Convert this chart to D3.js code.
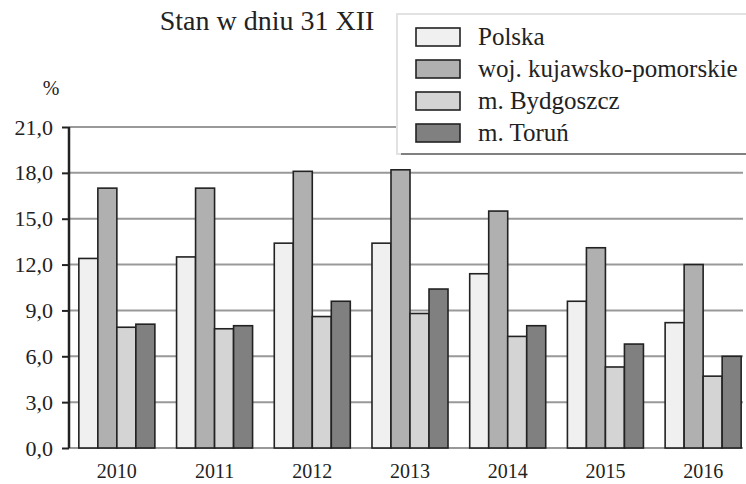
<!DOCTYPE html>
<html>
<head>
<meta charset="UTF-8">
<title>Stan w dniu 31 XII</title>
<script src="https://cdnjs.cloudflare.com/ajax/libs/d3/7.8.5/d3.min.js"></script>
<style>
    html, body { margin: 0; padding: 0; background: #fff; }
</style>
</head>
<body>
<div id="chart"></div>
<script>
    const years = ["2010", "2011", "2012", "2013", "2014", "2015", "2016"];
    const seriesNames = ["Polska", "woj. kujawsko-pomorskie", "m. Bydgoszcz", "m. Toruń"];
    const polska = [12.4, 12.5, 13.4, 13.4, 11.4, 9.6, 8.2];
    const kujawskoPomorskie = [17.0, 17.0, 18.1, 18.2, 15.5, 13.1, 12.0];
    const bydgoszcz = [7.9, 7.8, 8.6, 8.8, 7.3, 5.3, 4.7];
    const torun = [8.1, 8.0, 9.6, 10.4, 8.0, 6.8, 6.0];
    const yTicks = [0, 3, 6, 9, 12, 15, 18, 21];
    const colors = ["#eff0ef", "#b0b0b0", "#d4d4d4", "#808080"];

    const FONT = "Liberation Serif";
    const allSeries = [polska, kujawskoPomorskie, bydgoszcz, torun];
    const width = 746, height = 484;

    const svg = d3.select("#chart").append("svg")
        .attr("width", width)
        .attr("height", height);

    const y = d3.scaleLinear().domain([0, 21]).range([448, 127]);
    const x0 = d3.scaleBand().domain(years).range([68, 752])
        .paddingInner(0.222).paddingOuter(0.111);
    const x1 = d3.scaleBand().domain(d3.range(seriesNames.length)).range([0, x0.bandwidth()]);

    // gridlines
    svg.append("g")
        .selectAll("line")
        .data(yTicks)
        .join("line")
        .attr("x1", 69).attr("x2", 743)
        .attr("y1", d => y(d)).attr("y2", d => y(d))
        .attr("stroke", "#999")
        .attr("stroke-width", 2);

    // y axis
    const yAxis = svg.append("g")
        .attr("transform", "translate(69,0)")
        .call(d3.axisLeft(y).tickValues(yTicks).tickSize(7).tickPadding(10)
            .tickFormat(d => d3.format(".1f")(d).replace(".", ",")));
    yAxis.select(".domain").attr("stroke", "#222").attr("stroke-width", 2.5)
        .attr("d", `M0,${y(0)}V${y(21)}`);
    yAxis.selectAll(".tick line").attr("stroke", "#222").attr("stroke-width", 2);
    yAxis.selectAll(".tick text").attr("font-size", 22).attr("x", -16);

    svg.append("text")
        .attr("x", 51).attr("y", 95)
        .attr("text-anchor", "middle")
        .attr("font-size", 20)
        .text("%");

    // bars
    const groups = svg.append("g")
        .selectAll("g")
        .data(years)
        .join("g")
        .attr("transform", d => `translate(${x0(d)},0)`);

    groups.selectAll("rect")
        .data((d, i) => allSeries.map((s, k) => ({ k, v: s[i] })))
        .join("rect")
        .attr("x", d => x1(d.k))
        .attr("width", x1.bandwidth())
        .attr("y", d => y(d.v))
        .attr("height", d => y(0) - y(d.v))
        .attr("fill", d => colors[d.k])
        .attr("stroke", "#222")
        .attr("stroke-width", 1.6);

    // x axis labels
    const xAxis = svg.append("g")
        .attr("transform", `translate(0,${y(0)})`)
        .call(d3.axisBottom(x0).tickSize(0).tickPadding(16));
    xAxis.select(".domain").remove();
    xAxis.selectAll(".tick text").attr("font-size", 20);

    // title
    svg.append("text")
        .attr("x", 267).attr("y", 30)
        .attr("text-anchor", "middle")
        .attr("font-size", 28)
        .text("Stan w dniu 31 XII");

    // legend
    const legend = svg.append("g");
    legend.append("rect")
        .attr("x", 397).attr("y", 14)
        .attr("width", 360).attr("height", 140)
        .attr("fill", "#fff")
        .attr("stroke", "#e2e2e2")
        .attr("stroke-width", 2);
    legend.append("line")
        .attr("x1", 401).attr("x2", 746)
        .attr("y1", 154).attr("y2", 154)
        .attr("stroke", "#808080")
        .attr("stroke-width", 2);

    const items = legend.selectAll("g.item")
        .data(seriesNames)
        .join("g")
        .attr("class", "item")
        .attr("transform", (d, i) => `translate(0,${37 + i * 32})`);
    items.append("rect")
        .attr("x", 416).attr("y", -9)
        .attr("width", 44).attr("height", 18)
        .attr("fill", (d, i) => colors[i])
        .attr("stroke", "#222")
        .attr("stroke-width", 1.6);
    items.append("text")
        .attr("x", 478).attr("y", 8)
        .attr("font-size", 25)
        .text(d => d);

    // same serif face on every text
    svg.selectAll("text")
        .attr("font-family", FONT)
        .attr("fill", "#222");
</script>
</body>
</html>
